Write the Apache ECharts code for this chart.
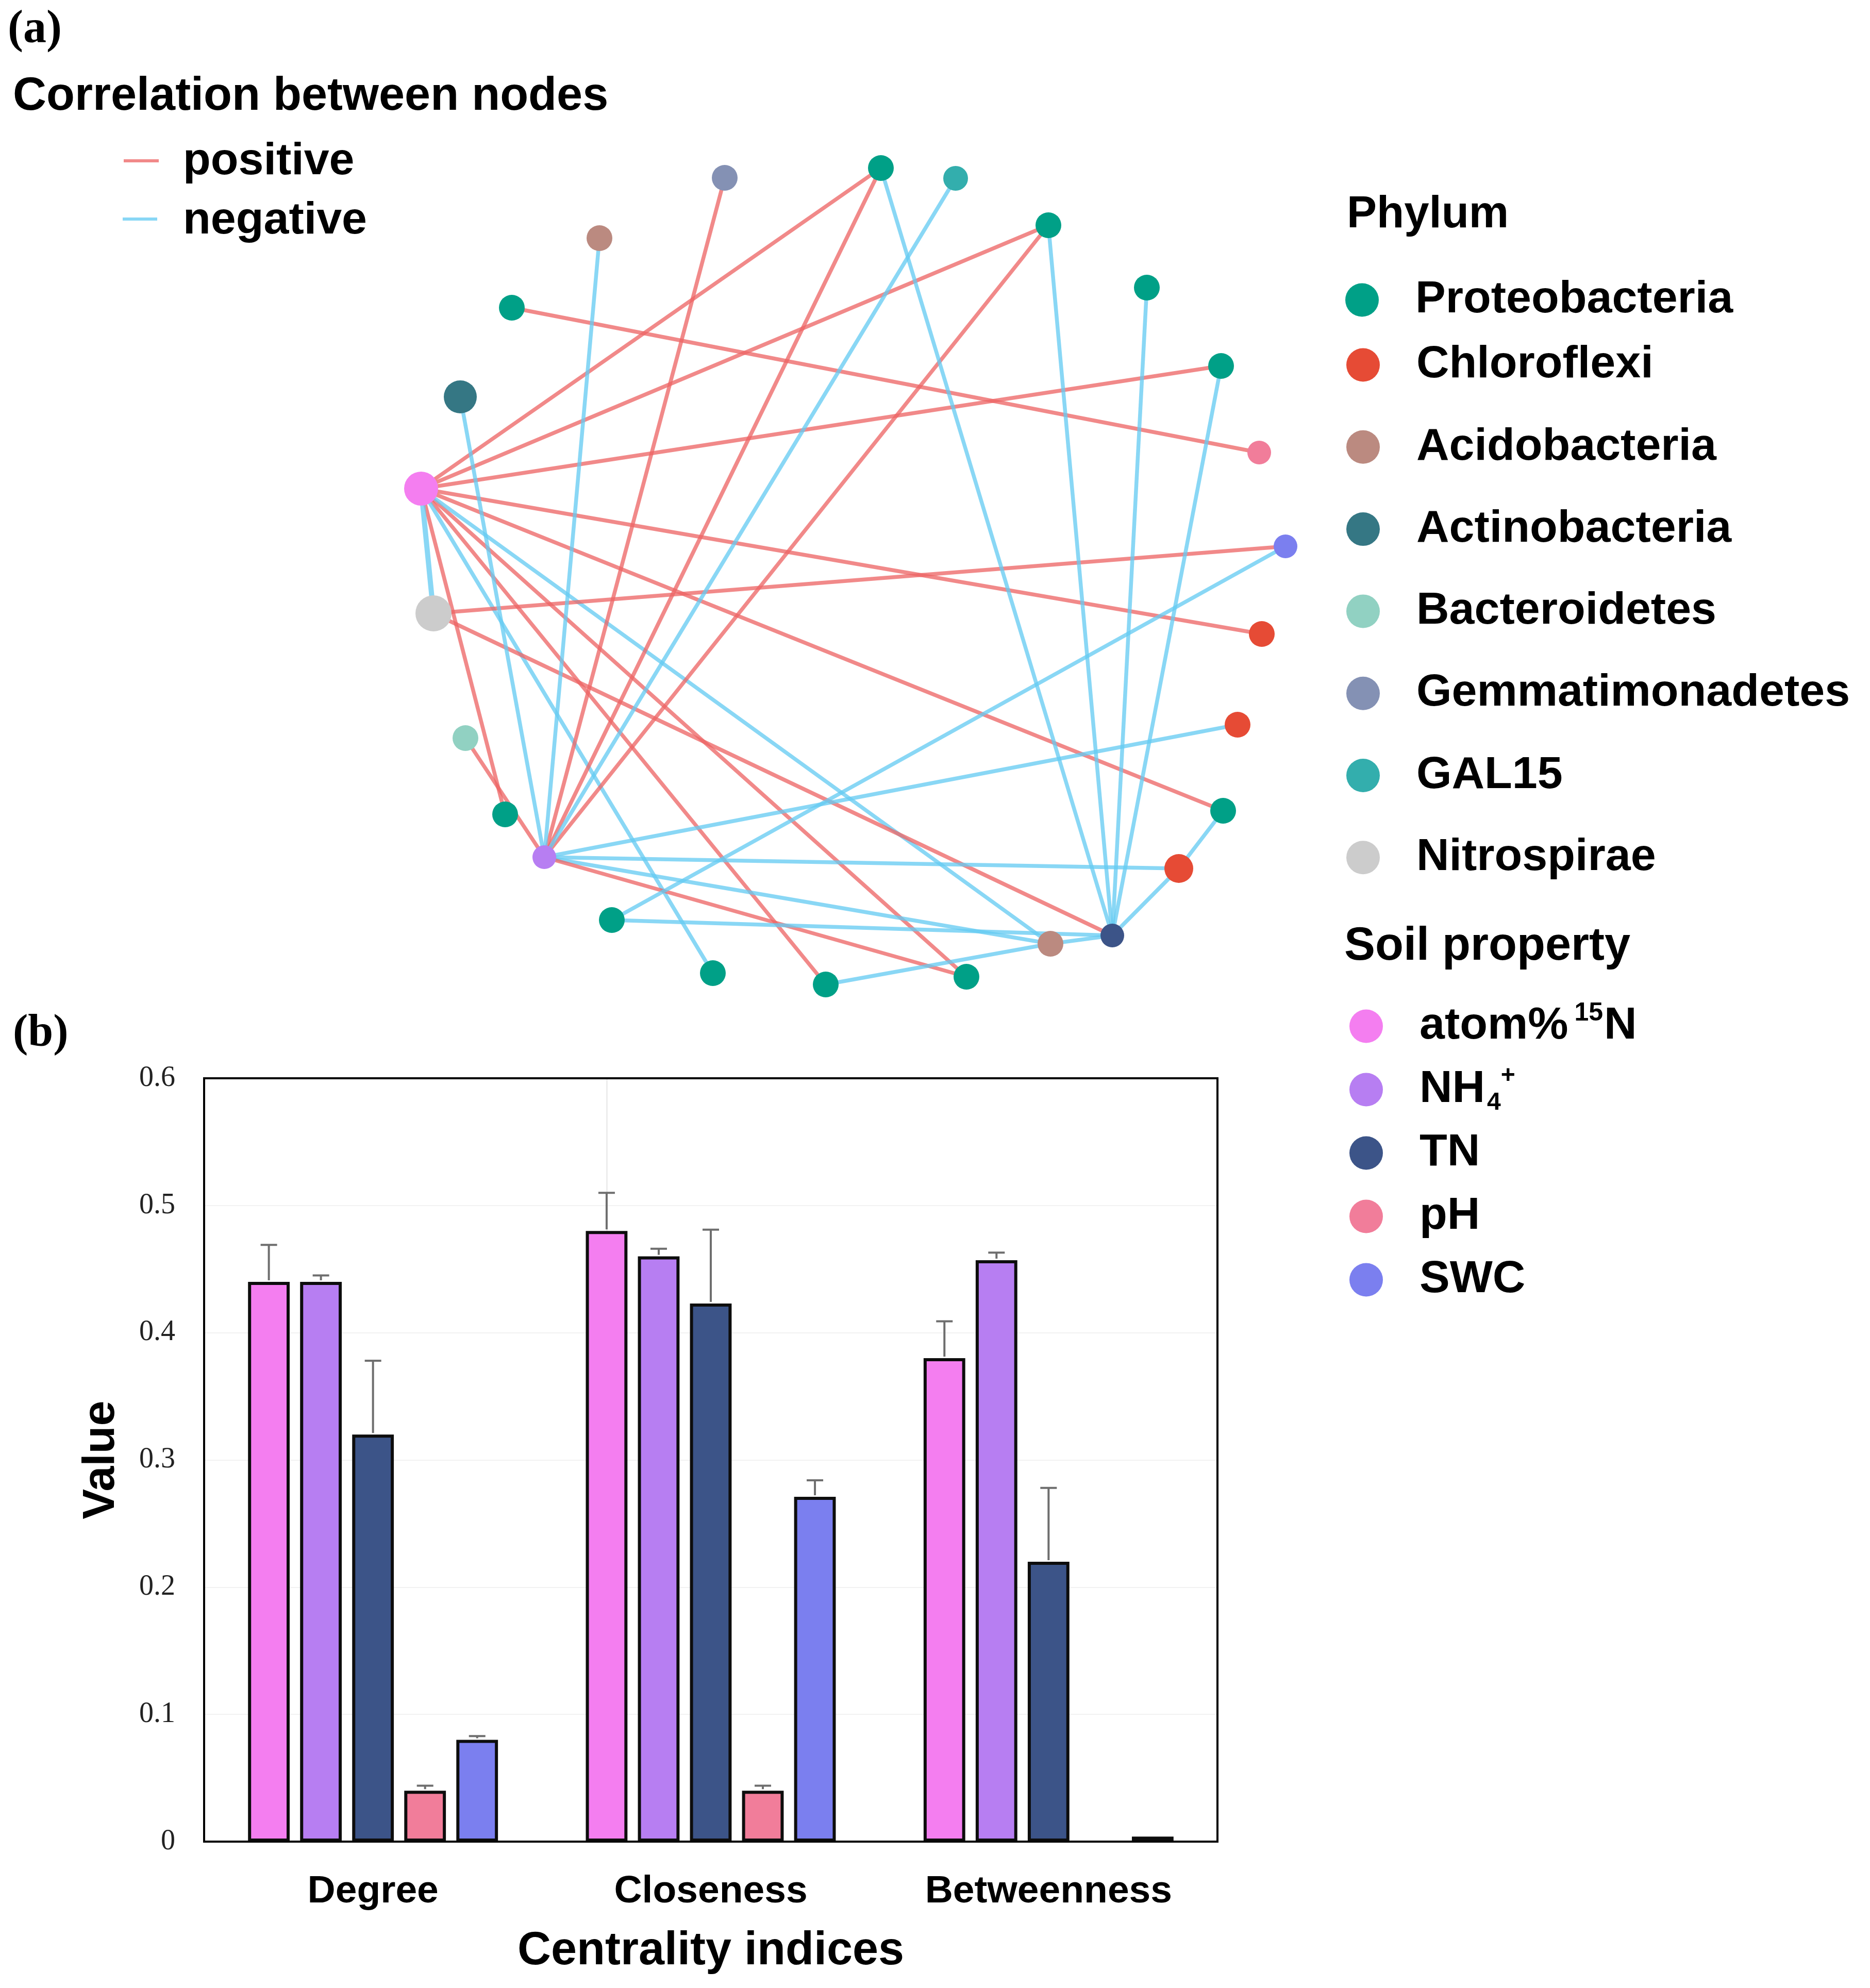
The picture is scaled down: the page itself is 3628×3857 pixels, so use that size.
<!DOCTYPE html>
<html>
<head>
<meta charset="utf-8">
<script src="https://cdn.jsdelivr.net/npm/echarts@6/dist/echarts.min.js"></script>
<style>
html,body{margin:0;padding:0;background:#ffffff;}
#chart{width:3628px;height:3857px;}
</style>
</head>
<body>
<div id="chart"></div>
<script>
// ---------------- data ----------------
const phyla = ['Proteobacteria','Chloroflexi','Acidobacteria','Actinobacteria','Bacteroidetes','Gemmatimonadetes','GAL15','Nitrospirae'];
const soilProps = ['atom%15N','NH4+','TN','pH','SWC'];
const centrality = ['Degree','Closeness','Betweenness'];

// centrality index values (panel b)
const atomValues = [0.44, 0.48, 0.38];
const nh4Values  = [0.44, 0.46, 0.457];
const tnValues   = [0.32, 0.423, 0.22];
const phValues   = [0.04, 0.04, 0];
const swcValues  = [0.08, 0.271, 0.004];
// standard errors (upper whisker only)
const atomErr = [0.029, 0.030, 0.029];
const nh4Err  = [0.005, 0.006, 0.006];
const tnErr   = [0.058, 0.058, 0.058];
const phErr   = [0.004, 0.004, 0];
const swcErr  = [0.003, 0.013, 0];

// network nodes (panel a)
const nodeIds    = ['Gem1','Pro1','GAL1','Pro2','Pro3','Pro4','pH','SWC','Chl1','Chl2','Pro5','Chl3','TN','Aci2','Pro6','Pro7','Pro8','Pro9','NH4+','Pro10','Bac1','Nit1','atom%15N','Act1','Pro11','Aci1'];
const nodeGroups = ['Gemmatimonadetes','Proteobacteria','GAL15','Proteobacteria','Proteobacteria','Proteobacteria','pH','SWC','Chloroflexi','Chloroflexi','Proteobacteria','Chloroflexi','TN','Acidobacteria','Proteobacteria','Proteobacteria','Proteobacteria','Proteobacteria','NH4+','Proteobacteria','Bacteroidetes','Nitrospirae','atom%15N','Actinobacteria','Proteobacteria','Acidobacteria'];
// layout coordinates of the nodes
const layoutX = [1406,1709,1854,2034,2225,2369,2443,2494,2448,2401,2373,2287,2158,2038,1875,1602,1383,1187,1056,980,903,841,817,893,993,1163];
const layoutY = [345,326,346,437,558,710,878,1060,1230,1406,1573,1685,1815,1831,1895,1910,1888,1785,1663,1580,1432,1190,948,770,597,462];

// correlations: [source, target, sign]
const correlations = [
  ['Pro11','pH',1],
  ['atom%15N','Pro1',1],['atom%15N','Pro2',1],['atom%15N','Pro4',1],['atom%15N','Chl1',1],
  ['atom%15N','Pro5',1],['atom%15N','Pro6',1],['atom%15N','Pro7',1],['atom%15N','Pro10',1],
  ['atom%15N','Nit1',-1],['atom%15N','Pro8',-1],['atom%15N','Aci2',-1],
  ['Nit1','SWC',1],['Nit1','TN',1],
  ['Bac1','NH4+',1],['Gem1','NH4+',1],['Pro1','NH4+',1],['Pro2','NH4+',1],
  ['GAL1','NH4+',-1],['Aci1','NH4+',-1],['Act1','NH4+',-1],['Chl2','NH4+',-1],['Chl3','NH4+',-1],
  ['NH4+','Aci2',-1],['NH4+','Pro6',1],
  ['SWC','Pro9',-1],['Pro9','TN',-1],
  ['Pro1','TN',-1],['Pro2','TN',-1],['Pro3','TN',-1],['Pro4','TN',-1],
  ['Pro5','Chl3',-1],['Chl3','TN',-1],['Aci2','TN',-1],['Pro7','Aci2',-1]
];

// ---------------- styles ----------------
const groupColors = {
  'Proteobacteria':'#00A087','Chloroflexi':'#E64B35','Acidobacteria':'#BB8A80','Actinobacteria':'#357784',
  'Bacteroidetes':'#91D1C2','Gemmatimonadetes':'#8491B4','GAL15':'#33AEAD','Nitrospirae':'#CCCCCC',
  'atom%15N':'#F47EF0','NH4+':'#B77EF2','TN':'#3C5488','pH':'#F17D9A','SWC':'#7B7FEF'
};
const nodeSizeStyle = {'atom%15N':66,'Nit1':70,'Act1':64,'Chl3':56,'pH':46,'SWC':46,'TN':46,'NH4+':46,'GAL1':48};
const POS = 'rgba(237,100,100,0.76)';
const NEG = 'rgba(100,203,242,0.76)';
const SANS = 'Liberation Sans, Arial, sans-serif';
const SERIF = 'Liberation Serif, Times New Roman, serif';

const allGroups = phyla.concat(soilProps);
const graphCategories = allGroups.map(g => ({name: g, itemStyle: {color: groupColors[g]}}));
const graphNodes = nodeIds.map((id, i) => ({
  name: id,
  value: [layoutX[i], layoutY[i]],
  category: allGroups.indexOf(nodeGroups[i]),
  symbolSize: nodeSizeStyle[id] || 50
}));
const graphLinks = correlations.map(([s, t, sign]) => ({
  source: s, target: t,
  lineStyle: {color: sign > 0 ? POS : NEG, width: (s === 'atom%15N' && t === 'Nit1') ? 10 : 7.5}
}));

const barValues = [atomValues, nh4Values, tnValues, phValues, swcValues];
const barErrors = [atomErr, nh4Err, tnErr, phErr, swcErr];
const BAR_CAT_GAP = 0.26, BAR_GAP = 0.25;

const barSeries = soilProps.map((name, i) => {
  const s = {
    type: 'bar', name: name, xAxisIndex: 0, yAxisIndex: 0,
    data: barValues[i].map(v => v === 0 ? {value: v, itemStyle: {borderWidth: 0}} : v),
    barGap: (BAR_GAP * 100) + '%', barCategoryGap: (BAR_CAT_GAP * 100) + '%',
    itemStyle: {color: groupColors[name], borderColor: '#0d0d0d', borderWidth: 6},
    emphasis: {disabled: true}, z: 2, animation: false
  };
  if (i === 0) {
    s.markLine = {
      silent: true, symbol: 'none', z: 1, animation: false,
      label: {show: false},
      lineStyle: {color: '#EDEDED', width: 3, type: 'solid'},
      data: [{xAxis: 'Closeness'}]
    };
  }
  return s;
});

const errData = [];
soilProps.forEach((n, i) => {
  centrality.forEach((c, j) => {
    errData.push([j, barValues[i][j], barValues[i][j] + barErrors[i][j], i]);
  });
});

const errorSeries = {
  type: 'custom', name: 'error', xAxisIndex: 0, yAxisIndex: 0,
  data: errData, encode: {x: 0, y: [1, 2]}, z: 4, silent: true, animation: false,
  renderItem: function (params, api) {
    const cat = api.value(0), val = api.value(1), up = api.value(2), si = api.value(3);
    if (!(up > val)) return null;
    const band = api.size([1, 0])[0];
    const usable = band * (1 - BAR_CAT_GAP);
    const n = soilProps.length;
    const bw = usable / (n + (n - 1) * BAR_GAP);
    const offset = -usable / 2 + si * bw * (1 + BAR_GAP) + bw / 2;
    const p0 = api.coord([cat, val]);
    const p1 = api.coord([cat, up]);
    const x = p0[0] + offset;
    const st = {stroke: '#6E6E6E', lineWidth: 4};
    return {
      type: 'group',
      children: [
        {type: 'line', shape: {x1: x, y1: p0[1] - 3, x2: x, y2: p1[1]}, style: st},
        {type: 'line', shape: {x1: x - 16, y1: p1[1], x2: x + 16, y2: p1[1]}, style: st}
      ]
    };
  }
};

const legendText = {
  fontFamily: SANS, fontWeight: 'bold', fontSize: 88, color: '#000',
  lineHeight: 100, padding: [0, 0, 0, 66],
  rich: {
    sup: {fontFamily: SANS, fontWeight: 'bold', fontSize: 50, color: '#000', lineHeight: 60, verticalAlign: 'top', padding: [0, 2, 0, 12]},
    sub: {fontFamily: SANS, fontWeight: 'bold', fontSize: 48, color: '#000', lineHeight: 20, verticalAlign: 'bottom', padding: [0, 0, 0, 4]},
    sup2: {fontFamily: SANS, fontWeight: 'bold', fontSize: 48, color: '#000', lineHeight: 74, verticalAlign: 'top'}
  }
};
function legendBlock(names, left, top, gap, formatter) {
  const l = {
    data: names.map(n => ({name: n, icon: 'circle'})),
    orient: 'vertical', left: left, top: top, padding: 0,
    itemWidth: 65, itemHeight: 65, itemGap: gap,
    selectedMode: false, itemStyle: {borderWidth: 0},
    textStyle: legendText
  };
  if (formatter) l.formatter = formatter;
  return l;
}

const option = {
  backgroundColor: '#ffffff',
  animation: false,
  title: [
    {text: '(a)', left: 15, top: 14, padding: 0, textStyle: {fontFamily: SERIF, fontWeight: 'bold', fontSize: 90, color: '#000'}},
    {text: '(b)', left: 25, top: 1962, padding: 0, textStyle: {fontFamily: SERIF, fontWeight: 'bold', fontSize: 88, color: '#000'}},
    {text: 'Correlation between nodes', left: 25, top: 143, padding: 0, textStyle: {fontFamily: SANS, fontWeight: 'bold', fontSize: 90, color: '#000'}},
    {text: 'positive', left: 355, top: 270, padding: 0, textStyle: {fontFamily: SANS, fontWeight: 'bold', fontSize: 88, color: '#000'}},
    {text: 'negative', left: 355, top: 385, padding: 0, textStyle: {fontFamily: SANS, fontWeight: 'bold', fontSize: 88, color: '#000'}},
    {text: 'Phylum', left: 2613, top: 374, padding: 0, textStyle: {fontFamily: SANS, fontWeight: 'bold', fontSize: 87, color: '#000'}},
    {text: 'Soil property', left: 2608, top: 1792, padding: 0, textStyle: {fontFamily: SANS, fontWeight: 'bold', fontSize: 90, color: '#000'}}
  ],
  graphic: [
    {type: 'line', shape: {x1: 240, y1: 312, x2: 308, y2: 312}, style: {stroke: POS, lineWidth: 6}},
    {type: 'line', shape: {x1: 238, y1: 425, x2: 305, y2: 425}, style: {stroke: NEG, lineWidth: 6}}
  ],
  legend: [
    legendBlock(phyla.slice(0, 1), 2610, 532, 55),
    legendBlock(phyla.slice(1), 2612, 658, 59.3),
    legendBlock(soilProps, 2618, 1941, 23, function (name) {
      if (name === 'atom%15N') return 'atom%{sup|15}N';
      if (name === 'NH4+') return 'NH{sub|4}{sup2|+}';
      return name;
    })
  ],
  grid: [
    {left: 396, top: 2092, width: 1966, height: 1481, show: true, borderColor: '#000', borderWidth: 4, backgroundColor: 'transparent', containLabel: false, z: 3},
    {left: 0, top: 0, width: 3628, height: 3857, show: false, containLabel: false}
  ],
  xAxis: [
    {
      gridIndex: 0, type: 'category', data: centrality,
      axisLine: {show: true, lineStyle: {color: '#000', width: 4}},
      axisTick: {show: false},
      splitLine: {show: false},
      axisLabel: {fontFamily: SANS, fontWeight: 'bold', fontSize: 75, color: '#000', margin: 60},
      name: 'Centrality indices', nameLocation: 'middle', nameGap: 168,
      nameTextStyle: {fontFamily: SANS, fontWeight: 'bold', fontSize: 90, color: '#000'}
    },
    {gridIndex: 1, type: 'value', min: 0, max: 3628, show: false, splitLine: {show: false}}
  ],
  yAxis: [
    {
      gridIndex: 0, type: 'value', min: 0, max: 0.6, interval: 0.1,
      axisLine: {show: true, lineStyle: {color: '#000', width: 4}},
      axisTick: {show: false},
      splitLine: {show: true, showMinLine: false, showMaxLine: false, lineStyle: {color: '#F2F2F2', width: 2}},
      axisLabel: {fontFamily: SERIF, fontSize: 56, color: '#222', margin: 56},
      name: 'Value', nameLocation: 'middle', nameGap: 155, nameRotate: 90,
      nameTextStyle: {fontFamily: SANS, fontWeight: 'bold', fontSize: 88, color: '#000'}
    },
    {gridIndex: 1, type: 'value', min: 0, max: 3857, inverse: true, show: false, splitLine: {show: false}}
  ],
  series: [
    {
      type: 'graph', name: 'network', coordinateSystem: 'cartesian2d', xAxisIndex: 1, yAxisIndex: 1,
      data: graphNodes, links: graphLinks, categories: graphCategories,
      lineStyle: {opacity: 1, curveness: 0},
      itemStyle: {borderWidth: 0},
      label: {show: false}, emphasis: {disabled: true}, silent: true, z: 3
    }
  ].concat(barSeries, [errorSeries])
};

const chart = echarts.init(document.getElementById('chart'), null, {renderer: 'canvas'});
chart.setOption(option);
</script>
</body>
</html>
